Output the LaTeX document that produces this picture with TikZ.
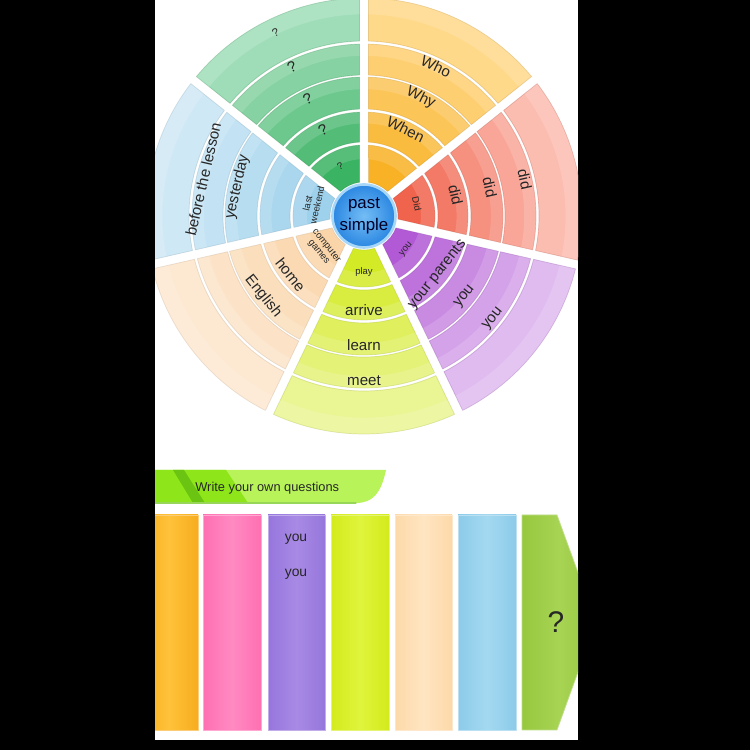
\documentclass[tikz,border=0pt]{standalone}
\usepackage{fontspec}
\setmainfont{Liberation Sans}
\usetikzlibrary{positioning}

% wheel colours: inner ring / outer ring of each sector
\definecolor{grnIn}{HTML}{3AB362}\definecolor{grnOut}{HTML}{9FDDB8}
\definecolor{orgIn}{HTML}{F9B226}\definecolor{orgOut}{HTML}{FFD98A}
\definecolor{redIn}{HTML}{F0634D}\definecolor{redOut}{HTML}{FCBDB1}
\definecolor{purIn}{HTML}{B259D5}\definecolor{purOut}{HTML}{E0BBF0}
\definecolor{ylwIn}{HTML}{D3EA26}\definecolor{ylwOut}{HTML}{EAF593}
\definecolor{pchIn}{HTML}{FAD5A9}\definecolor{pchOut}{HTML}{FDE8D2}
\definecolor{bluIn}{HTML}{9ED1EC}\definecolor{bluOut}{HTML}{CFE8F5}
\definecolor{hubIn}{HTML}{74BDF5}\definecolor{hubOut}{HTML}{2C88E2}
\definecolor{hubRim}{HTML}{A6D6F8}
\definecolor{txt}{HTML}{262626}
% column colours
\definecolor{colOrg}{HTML}{F8AC1E}\definecolor{colOrgL}{HTML}{FFC23A}
\definecolor{colPnk}{HTML}{FF6FB2}\definecolor{colPnkL}{HTML}{FF8AC2}
\definecolor{colPur}{HTML}{9676DC}\definecolor{colPurL}{HTML}{A88AE5}
\definecolor{colYlw}{HTML}{D3EB1C}\definecolor{colYlwL}{HTML}{DFF43C}
\definecolor{colPch}{HTML}{FDD9A9}\definecolor{colPchL}{HTML}{FFE5C2}
\definecolor{colBlu}{HTML}{8CCBEA}\definecolor{colBluL}{HTML}{A4D9F0}
\definecolor{colGrn}{HTML}{96C83E}\definecolor{colGrnL}{HTML}{A7D454}
% banner
\definecolor{banA}{HTML}{8EE61A}\definecolor{banB}{HTML}{B9F35A}
\definecolor{banS}{HTML}{6CC412}

\begin{document}
\begin{tikzpicture}[x=0.02cm, y=0.02cm, line join=round, line cap=round,
    lbl/.style={inner sep=0pt, text=txt, font=\fontsize{8.6}{10}\selectfont},
    small/.style={inner sep=0pt, text=txt, align=center, font=\fontsize{5.4}{5.6}\selectfont},
    column/.style 2 args={draw=#1!60!white, line width=0.4pt,
      left color=#1, right color=#1, middle color=#2}]

\fill[black] (0,0) rectangle (750,750);
\fill[white] (155,10) rectangle (578,750);
\path
  (364,534) coordinate (O)
  (155,10) coordinate (pSW)
  (578,750) coordinate (pNE)
  ;

\begin{scope}
\clip (pSW) rectangle (pNE);

% wheel: 7 sectors of 5 rings
\begin{scope}[shift={(O)}]
\foreach \c/\s in {270/ylw, 321.43/pur, 12.86/red, 64.29/org, 115.71/grn, 167.14/blu, 218.57/pch}
 \foreach \ra/\rb/\k in {34/71/0, 74/104/1, 107/139/2, 141/172/3, 175/218/4} {
  \pgfmathtruncatemacro\pct{100-25*\k}
  \pgfmathsetmacro\rm{\rb-0.38*(\rb-\ra)}
  \pgfmathsetmacro\aA{\c-25.714+asin(4.5/\ra)}
  \pgfmathsetmacro\aB{\c+25.714-asin(4.5/\ra)}
  \pgfmathsetmacro\bA{\c-25.714+asin(4.5/\rb)}
  \pgfmathsetmacro\bB{\c+25.714-asin(4.5/\rb)}
  \pgfmathsetmacro\mA{\c-25.714+asin(4.5/\rm)}
  \pgfmathsetmacro\mB{\c+25.714-asin(4.5/\rm)}
  \filldraw[fill=\s In!\pct!\s Out, draw=\s In!75!black, draw opacity=0.3, line width=0.4pt]
    (\aA:\ra) arc[start angle=\aA, end angle=\aB, radius=\ra]
    -- (\bB:\rb) arc[start angle=\bB, end angle=\bA, radius=\rb] -- cycle;
  \fill[white, opacity=0.15]
    (\mA:\rm) arc[start angle=\mA, end angle=\mB, radius=\rm]
    -- (\bB:\rb) arc[start angle=\bB, end angle=\bA, radius=\rb] -- cycle;
 }

% green
\foreach \r/\n/\f in {55/q1/5.6, 95/q2/8.6, 130/q3/8.6, 166/q4/8.6, 204/q5/6.4}
  \node[lbl, font=\fontsize{\f}{\f}\selectfont, rotate=25.71] (\n) at (115.71:\r) {?};
% orange
\node[lbl, rotate=-25.71] (when) at (64.29:96) {When};
\node[lbl, rotate=-25.71] (why) at (64.29:131) {Why};
\node[lbl, rotate=-25.71] (who) at (64.29:166) {Who};
% red
\node[small, rotate=-77.14] (did1) at (12.86:54) {Did};
\node[lbl, rotate=-77.14] (did2) at (12.86:94) {did};
\node[lbl, rotate=-77.14] (did3) at (12.86:129) {did};
\node[lbl, rotate=-77.14] (did4) at (12.86:165) {did};
% purple
\node[small, rotate=51.43] (you1) at (321.43:54) {you};
\node[lbl, rotate=51.43] (parents) at (321.43:94) {your parents};
\node[lbl, rotate=51.43] (you3) at (321.43:129) {you};
\node[lbl, rotate=51.43] (you4) at (321.43:165) {you};
% yellow-green
\node[small] (play) at (270:56) {play};
\node[lbl] (arrive) at (270:94) {arrive};
\node[lbl] (learn) at (270:129) {learn};
\node[lbl] (meet) at (270:165) {meet};
% peach
\node[small, rotate=-51.43] (games) at (218.57:53) {computer\\games};
\node[lbl, rotate=-51.43] (home) at (218.57:94) {home};
\node[lbl, rotate=-51.43] (english) at (218.57:129) {English};
% blue
\node[small, rotate=77.14] (weekend) at (167.14:53) {last\\weekend};
\node[lbl, rotate=77.14] (yesterday) at (167.14:130) {yesterday};
\node[lbl, rotate=77.14] (lesson) at (167.14:165) {before the lesson};
\end{scope}

% hub
\shade[inner color=hubIn, outer color=hubOut] (O) circle[radius=31];
\draw[hubRim, line width=1.5pt] (O) circle[radius=31.5];
\node[align=center, text=black!85!blue, font=\fontsize{9.6}{12.4}\selectfont] (hub) at (O) {past\\simple};

% banner
\path
  (155,280) coordinate (bNW)
  (386,280) coordinate (bNE)
  (356,247) coordinate (bSE)
  (155,247) coordinate (bSW)
  ;
\fill[banB] (bNW) -- (bNE) .. controls (381,256) and (372,247) .. (bSE) -- (bSW) -- cycle;
\fill[banA] (bNW) -- (226,280) -- (248,247) -- (bSW) -- cycle;
\fill[banS] (173,280) -- (184,280) -- (205,247) -- (193,247) -- cycle;
\draw[banS!70!white, line width=0.6pt] (bSW) -- (bSE);
\node[anchor=west, inner sep=0pt, text=txt, font=\fontsize{7.3}{8}\selectfont] (write) at (195,262) {Write your own questions};

% columns
\foreach \xa/\xb/\cc in {140/198/Org, 203/261/Pnk, 268/325/Pur, 331/389/Ylw, 395/452/Pch, 458/516/Blu}
  \path[column={col\cc}{col\cc L}] (\xa,20) rectangle (\xb,235);
\path[column={colGrn}{colGrnL}] (522,20) -- (522,235) -- (557,235) -- (596,128) -- (557,20) -- cycle;
\end{scope}

\node[text=txt, font=\fontsize{7.9}{9}\selectfont] (youA) at (296,211) {you};
\node[text=txt, font=\fontsize{7.9}{9}\selectfont] (youB) at (296,176) {you};
\node[text=txt, font=\fontsize{17}{20}\selectfont] (ask) at (556,128) {?};
\end{tikzpicture}
\end{document}
